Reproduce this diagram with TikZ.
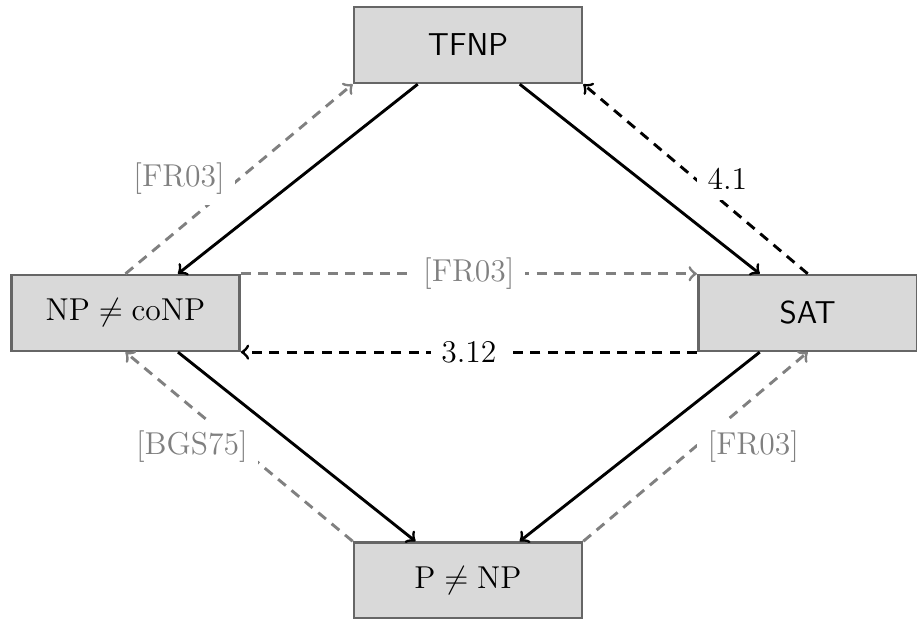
\documentclass[12pt,tikz,border=0pt]{standalone}
\usepackage{amsmath}
\usepackage{amssymb}
\usepackage{tikz}

\begin{document}
\begin{tikzpicture}[
  cls/.style={draw=black!60, fill=black!15, line width=1pt, minimum width=3.04cm, minimum height=1.01cm},
  impl/.style={->, line width=1.1pt},
  ours/.style={->, line width=1.1pt, dash pattern=on 3.8pt off 2.8pt},
  known/.style={ours, gray},
  lbl/.style={fill=white, text=gray}
]
\useasboundingbox (0,0) rectangle (12.227,-8.253);
\node[cls] (tfnp) at (6.24,-0.60) {\sffamily TFNP};
\node[cls] (conp) at (1.673,-4.173) {$\mathrm{NP}\neq\mathrm{coNP}$};
\node[cls, minimum width=2.92cm] (sat) at (10.77,-4.173) {\sffamily SAT};
\node[cls] (pnp) at (6.24,-7.74) {$\mathrm{P}\neq\mathrm{NP}$};

\draw[impl] ([xshift=-0.67cm]tfnp.south) -- ([xshift=0.7cm]conp.north);
\draw[impl] ([xshift=0.69cm]tfnp.south) -- ([xshift=-0.64cm]sat.north);
\draw[impl] ([xshift=0.7cm]conp.south) -- ([xshift=-0.7cm]pnp.north);
\draw[impl] ([xshift=-0.64cm]sat.south) -- ([xshift=0.69cm]pnp.north);

\draw[known] (conp.north) -- node[lbl, xshift=-0.8cm] {[FR03]} (tfnp.south west);
\draw[ours] (sat.north) -- node[fill=white, right] {4.1} (tfnp.south east);
\draw[known] (conp.north east) -- node[lbl] {[FR03]} (sat.north west);
\draw[ours] (sat.south west) -- node[fill=white] {3.12} (conp.south east);
\draw[known] (pnp.north west) -- node[lbl, xshift=-0.63cm] {[BGS75]} (conp.south);
\draw[known] (pnp.north east) -- node[lbl, xshift=0.77cm] {[FR03]} (sat.south);
\end{tikzpicture}
\end{document}
